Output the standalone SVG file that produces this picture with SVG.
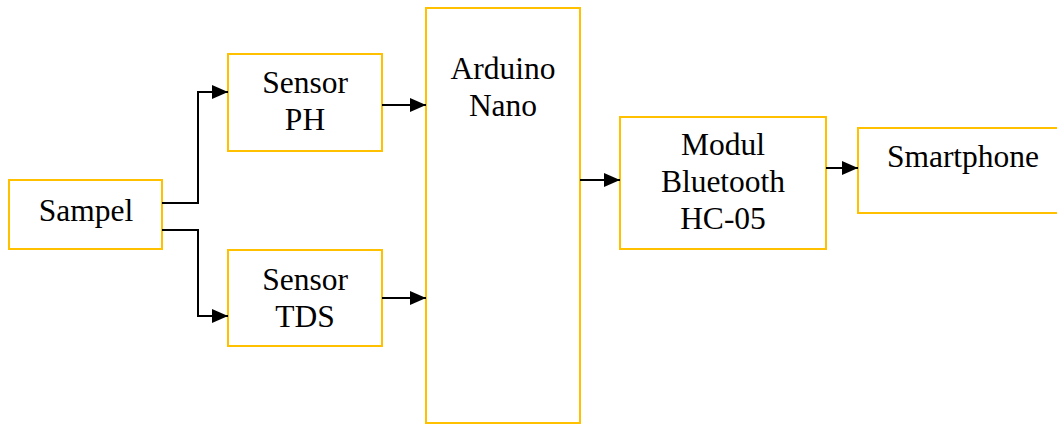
<svg xmlns="http://www.w3.org/2000/svg" width="1057" height="424" viewBox="0 0 1057 424">
<style>
.box{fill:#fff;stroke:#FFC000;stroke-width:2}
.t{font-family:'Liberation Serif','Times New Roman','DejaVu Serif',serif;font-size:31.5px;fill:#000;text-anchor:middle}
.c{fill:none;stroke:#000;stroke-width:2}
</style>
<defs>
<marker id="ah" markerWidth="16" markerHeight="14" refX="16" refY="7" orient="auto" markerUnits="userSpaceOnUse">
<path d="M0,0 L16,7 L0,14 Z" fill="#000"/>
</marker>
</defs>
<rect width="1057" height="424" fill="#fff"/>
<g id="sampel"><rect class="box" x="9" y="180" width="153" height="69"/><text class="t" font-family="Liberation Serif, serif" x="86" y="221">Sampel</text></g>
<g id="sensor-ph"><rect class="box" x="228" y="54" width="154" height="97"/><text class="t" x="305" y="93">Sensor</text><text class="t" x="305" y="130">PH</text></g>
<g id="sensor-tds"><rect class="box" x="228" y="250" width="154" height="96"/><text class="t" x="305" y="290">Sensor</text><text class="t" x="305" y="327">TDS</text></g>
<g id="arduino"><rect class="box" x="426" y="8" width="154" height="415"/><text class="t" x="503" y="79">Arduino</text><text class="t" x="503" y="116">Nano</text></g>
<g id="bluetooth"><rect class="box" x="620" y="117" width="206" height="132"/><text class="t" x="723" y="155">Modul</text><text class="t" x="723" y="192">Bluetooth</text><text class="t" x="723" y="229">HC-05</text></g>
<g id="smartphone"><rect class="box" x="858" y="128" width="210" height="85"/><text class="t" x="963" y="167">Smartphone</text></g>
<g id="connectors">
<path class="c" d="M162,203 H198 V92 H228" marker-end="url(#ah)"/>
<path class="c" d="M162,230 H198 V316 H228" marker-end="url(#ah)"/>
<path class="c" d="M382,105 H426" marker-end="url(#ah)"/>
<path class="c" d="M382,298 H426" marker-end="url(#ah)"/>
<path class="c" d="M580,180 H620" marker-end="url(#ah)"/>
<path class="c" d="M826,168 H858" marker-end="url(#ah)"/>
</g>
</svg>
